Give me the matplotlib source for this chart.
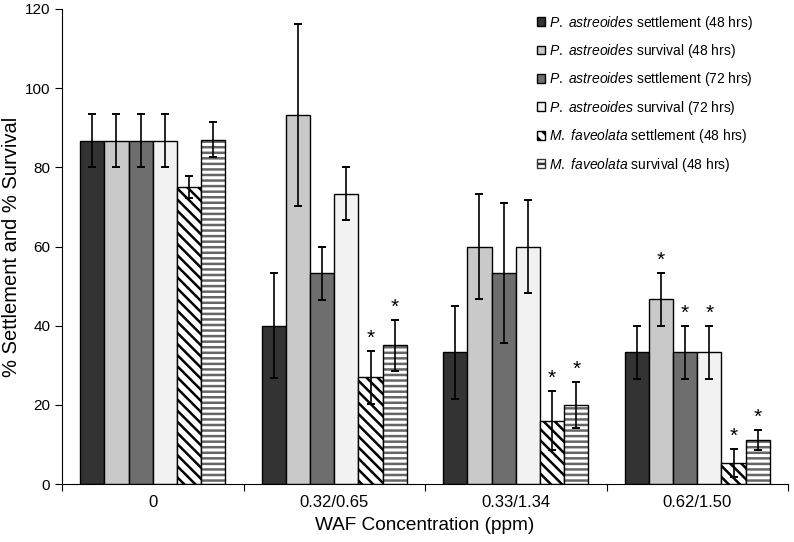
import numpy as np
import matplotlib
matplotlib.use("Agg")
import matplotlib.pyplot as plt

plt.rcParams['font.family'] = ['Liberation Sans', 'DejaVu Sans']
plt.rcParams['mathtext.fontset'] = 'custom'
plt.rcParams['mathtext.rm'] = 'Liberation Sans'
plt.rcParams['mathtext.it'] = 'Liberation Sans:italic'
plt.rcParams['hatch.linewidth'] = 1.8

# data
groups = ["0", "0.32/0.65", "0.33/1.34", "0.62/1.50"]
series = [
    r"$\mathit{P.}$ $\mathit{astreoides}$ settlement (48 hrs)",
    r"$\mathit{P.}$ $\mathit{astreoides}$ survival (48 hrs)",
    r"$\mathit{P.}$ $\mathit{astreoides}$ settlement (72 hrs)",
    r"$\mathit{P.}$ $\mathit{astreoides}$ survival (72 hrs)",
    r"$\mathit{M.}$ $\mathit{faveolata}$ settlement (48 hrs)",
    r"$\mathit{M.}$ $\mathit{faveolata}$ survival (48 hrs)",
]
pa_settle_48 = [86.7, 40.0, 33.3, 33.3]
pa_surv_48 = [86.7, 93.3, 60.0, 46.7]
pa_settle_72 = [86.7, 53.3, 53.3, 33.3]
pa_surv_72 = [86.7, 73.3, 60.0, 33.3]
mf_settle_48 = [75.0, 27.0, 16.0, 5.3]
mf_surv_48 = [87.0, 35.0, 20.0, 11.1]

err_pa_settle_48 = [6.7, 13.3, 11.7, 6.7]
err_pa_surv_48 = [6.7, 23.0, 13.3, 6.7]
err_pa_settle_72 = [6.7, 6.7, 17.8, 6.7]
err_pa_surv_72 = [6.7, 6.7, 11.7, 6.7]
err_mf_settle_48 = [2.7, 6.7, 7.5, 3.5]
err_mf_surv_48 = [4.5, 6.5, 5.8, 2.6]

# significance stars (group, series)
stars = [(1, 4), (1, 5), (2, 4), (2, 5), (3, 1), (3, 2), (3, 3), (3, 4), (3, 5)]

values = [pa_settle_48, pa_surv_48, pa_settle_72, pa_surv_72, mf_settle_48, mf_surv_48]
errors = [err_pa_settle_48, err_pa_surv_48, err_pa_settle_72, err_pa_surv_72,
          err_mf_settle_48, err_mf_surv_48]
colors = ["#333333", "#c9c9c9", "#6e6e6e", "#f2f2f2", "white", "white"]
hatches = [None, None, None, None, "\\\\\\", "---"]

fig = plt.figure(figsize=(7.94, 5.42), dpi=100)
ax = fig.add_axes([62 / 794, 58 / 542, 726 / 794, 475 / 542])

x = np.arange(len(groups))
w = 0.8 / 6
handles = []
for i in range(6):
    pos = x + (i - 2.5) * w
    if hatches[i] == "---":
        ax.bar(pos, values[i], w, color="white", edgecolor="#666666",
               hatch=hatches[i], linewidth=0, zorder=2)
        ax.bar(pos, values[i], w, facecolor="none", edgecolor="black",
               linewidth=1.0, zorder=3)
        h = ax.bar([0], [0], 0, color="white", edgecolor="#333333", hatch="---")
    else:
        h = ax.bar(pos, values[i], w, color=colors[i], edgecolor="black",
                   linewidth=1.0, hatch=hatches[i], zorder=2)
    handles.append(h)
    ax.errorbar(pos, values[i], yerr=errors[i], fmt="none", ecolor="black",
                elinewidth=1.2, capsize=3, capthick=1.4, zorder=4)

for g, s in stars:
    xs = x[g] + (s - 2.5) * w
    ax.text(xs, values[s][g] + errors[s][g] + 0.8, "*", ha="center",
            va="bottom", fontsize=15)

ax.set_ylim(0, 120)
ax.set_xlim(-0.5, 3.5)
ax.set_yticks(range(0, 121, 20))
ax.set_xticks(np.arange(-0.5, 4.0, 1.0))
ax.set_xticklabels([])
ax.set_xticks(x, minor=True)
ax.set_xticklabels(groups, minor=True)
ax.tick_params(axis="x", which="minor", length=0, pad=8, labelsize=12)
ax.tick_params(axis="x", which="major", direction="out", length=5)
ax.tick_params(axis="y", direction="out", length=5, labelsize=11)
for sp in ["top", "right"]:
    ax.spines[sp].set_visible(False)

ax.set_ylabel("% Settlement and % Survival", fontsize=14.5)
ax.yaxis.set_label_coords(-41 / 726, 0.5)
ax.set_xlabel("WAF Concentration (ppm)", fontsize=13.7, labelpad=5)

ax.legend(handles, series, loc="upper left", bbox_to_anchor=(524 / 794, 1 - 1 / 542),
          bbox_transform=fig.transFigure, frameon=False, fontsize=10,
          handlelength=0.6, handleheight=0.6, handletextpad=0.3, labelspacing=0.75)

plt.savefig("out.png", dpi=100)
